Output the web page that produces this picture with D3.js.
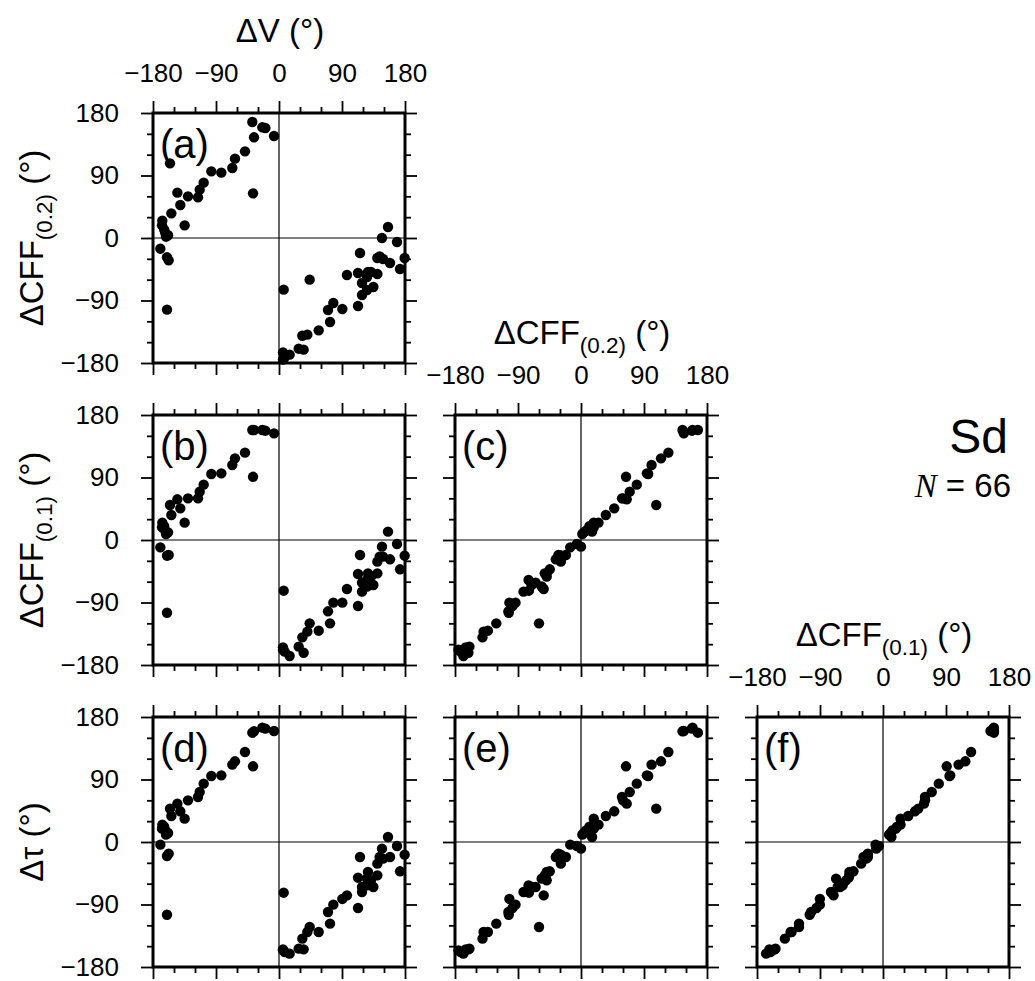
<!DOCTYPE html>
<html>
<head>
<meta charset="utf-8">
<script src="https://cdn.jsdelivr.net/npm/d3@7"></script>
<style>
  body { margin: 0; background: #fff; }
  text { font-family: "Liberation Sans", Arial, Helvetica, sans-serif; fill: #000; }
</style>
</head>
<body>
<svg id="chart" width="1035" height="981"></svg>
<script>
// differences in degrees for the 66 events (Sd)
const dV = [
  -38.1, -23.8, -19.5, -35.7, -7.1, -48.6, -62.9, -66.7, -82.4, -96.7,
  -107.6, -113.3, -115.7, -130, -145.2, -141, -153.8, -166.7, -167.1, -162.4,
  -161.4, -134.8, -155.7, -37.1, -169.5, -160, -157.6, -160, 6.7, 43.8,
  5.7, 8.1, 15.2, 5.7, 28.1, 35.2, 33.3, 40.5, 56.7, 72.9,
  70, 77.6, 90.5, 97.1, 112.9, 112.9, 118.6, 115.7, 127.1, 125.7,
  118.6, 125.7, 134.8, 140.5, 140.5, 143.8, 147.1, 155.7, 148.6, 158.6,
  168.6, 172.9, 179.5, 131.4, -164, -158.5
];
const dCFF02 = [
  167, 159.4, 158.4, 145, 146.9, 124.8, 114.3, 100.8, 94.1, 96,
  79.7, 69.6, 58.6, 60, 65.3, 47.5, 35.5, 25, 18.2, 7.2,
  1.9, 18.2, 107.5, 64.3, -15.4, -27.8, -32.2, -103.2, -74.4, -60,
  -164.7, -171.9, -168, -175, -159.4, -160.8, -140.7, -139.2, -133, -121,
  -103.7, -93.6, -102.3, -53.3, -50.4, -97.9, -64.8, -21.6, -49, -56.2,
  -82.1, -74.9, -70.6, -51.8, -28.8, -26.4, 0, 15.8, -30.2, -36,
  -5.8, -44.6, -28.8, -49, 12, 4
];
const dCFF01 = [
  158.4, 158.4, 157.4, 158.4, 153.6, 125.8, 117.6, 108, 96, 95,
  79.7, 69.6, 60, 60, 58.6, 45.6, 36, 25, 18.2, 13.4,
  8.6, 25, 50.4, 91, -10.6, -22.6, -21.6, -104.7, -73, -120,
  -154.6, -160.8, -167, -158, -153.6, -162.3, -140.2, -132, -130.6, -120,
  -102.7, -90.2, -90.2, -70.6, -49, -95, -61.4, -21.6, -48, -67,
  -74.4, -57.6, -64.8, -48, -31.2, -24, -9.6, 12, -24, -27.8,
  -5.8, -42.2, -22.6, -52.8, 20, 11
];
const dTau = [
  157.4, 164.7, 163.2, 159.4, 159.9, 129.6, 116.2, 111.4, 96, 95,
  84, 72, 64.8, 60, 55.2, 44.2, 37.4, 25, 19.2, 16.8,
  10.6, 33.6, 48, 109, -3.8, -20.2, -16.8, -104.7, -73, -122.4,
  -154.6, -158.4, -160.8, -156, -153.6, -154.6, -139.2, -129.6, -129.6, -117.6,
  -100.8, -90.2, -82, -76.8, -51.4, -95, -64.8, -21.6, -43.2, -52.8,
  -72, -62.4, -64.8, -48, -31.2, -21.6, -9.6, 7.2, -24, -21.6,
  -5.8, -42.2, -18.2, -55.2, 22, 13
];
const majorTicks = [-180, -90, 0, 90, 180];
const minorTicks = [-150, -120, -60, -30, 30, 60, 120, 150];

const svg = d3.select("#chart");
const W = 252, H = 250;
const colX = [153, 455, 757];
const rowY = [113, 415, 717];

const panels = [
  {tag: "(a)", col: 0, row: 0, xs: dV, ys: dCFF02},
  {tag: "(b)", col: 0, row: 1, xs: dV, ys: dCFF01},
  {tag: "(c)", col: 1, row: 1, xs: dCFF02, ys: dCFF01},
  {tag: "(d)", col: 0, row: 2, xs: dV, ys: dTau},
  {tag: "(e)", col: 1, row: 2, xs: dCFF02, ys: dTau},
  {tag: "(f)", col: 2, row: 2, xs: dCFF01, ys: dTau}
];

panels.forEach(p => {
  const x0 = colX[p.col], y0 = rowY[p.row];
  const x = d3.scaleLinear().domain([-180, 180]).range([x0, x0 + W]);
  const y = d3.scaleLinear().domain([-180, 180]).range([y0 + H, y0]);
  const g = svg.append("g");

  // zero lines
  g.append("line").attr("x1", x(0)).attr("x2", x(0)).attr("y1", y0).attr("y2", y0 + H)
    .attr("stroke", "#000").attr("stroke-width", 1.2);
  g.append("line").attr("x1", x0).attr("x2", x0 + W).attr("y1", y(0)).attr("y2", y(0))
    .attr("stroke", "#000").attr("stroke-width", 1.2);

  // points
  g.selectAll("circle")
    .data(p.xs.map((v, i) => [v, p.ys[i]]))
    .enter().append("circle")
      .attr("cx", d => x(d[0]))
      .attr("cy", d => y(d[1]))
      .attr("r", 5.2)
      .attr("fill", "#000");

  const topLab = p.col === p.row;
  const leftLab = p.col === 0;
  const sides = [
    {f: d3.axisTop, t: `translate(0,${y0})`, s: x, lab: topLab, pad: 19},
    {f: d3.axisBottom, t: `translate(0,${y0 + H})`, s: x, lab: false, pad: 4},
    {f: d3.axisLeft, t: `translate(${x0},0)`, s: y, lab: leftLab, pad: 22},
    {f: d3.axisRight, t: `translate(${x0 + W},0)`, s: y, lab: false, pad: 4}
  ];
  sides.forEach(sd => {
    const major = sd.f(sd.s).tickValues(majorTicks).tickSize(12).tickPadding(sd.pad);
    if (!sd.lab) major.tickFormat("");
    const minor = sd.f(sd.s).tickValues(minorTicks).tickSize(6).tickFormat("");
    [major, minor].forEach(ax => {
      const a = g.append("g").attr("transform", sd.t).call(ax);
      a.select(".domain").remove();
      a.selectAll("line").attr("stroke", "#000").attr("stroke-width", 1.8);
      a.selectAll("text").attr("font-size", 26)
        .attr("font-family", "'Liberation Sans', Arial, sans-serif").attr("fill", "#000");
    });
  });

  // frame
  g.append("rect").attr("x", x0).attr("y", y0).attr("width", W).attr("height", H)
    .attr("fill", "none").attr("stroke", "#000").attr("stroke-width", 3);

  g.append("text").attr("x", x0 + 7).attr("y", y0 + 45)
    .attr("font-size", 40).text(p.tag);
});

// axis titles
function title(parent, main, sub, size) {
  const t = parent.append("text").attr("text-anchor", "middle").attr("font-size", size);
  t.append("tspan").text(main);
  if (sub) {
    t.append("tspan").attr("font-size", size * 0.68).attr("dy", 9).text(sub);
    t.append("tspan").attr("dy", -9).text(" (\u00B0)");
  } else {
    t.append("tspan").text(" (\u00B0)");
  }
  return t;
}
const topTitles = [["\u0394V", null], ["\u0394CFF", "(0.2)"], ["\u0394CFF", "(0.1)"]];
topTitles.forEach((tt, i) => {
  title(svg, tt[0], tt[1], 33)
    .attr("transform", `translate(${colX[i] + W / 2 + 1},${rowY[i] - 71})`);
});
const leftTitles = [["\u0394CFF", "(0.2)"], ["\u0394CFF", "(0.1)"], ["\u0394\u03C4", null]];
leftTitles.forEach((tt, i) => {
  title(svg, tt[0], tt[1], 33)
    .attr("transform", `translate(43,${rowY[i] + H / 2}) rotate(-90)`);
});

// label
svg.append("text").attr("x", 1008).attr("y", 453).attr("text-anchor", "end")
  .attr("font-size", 48).text("Sd");
const nt = svg.append("text").attr("x", 1011).attr("y", 497).attr("text-anchor", "end")
  .attr("font-size", 33);
nt.append("tspan").attr("font-family", "'Liberation Serif', 'Times New Roman', serif")
  .attr("font-style", "italic").text("N");
nt.append("tspan").text(" = " + dV.length);
</script>
</body>
</html>
